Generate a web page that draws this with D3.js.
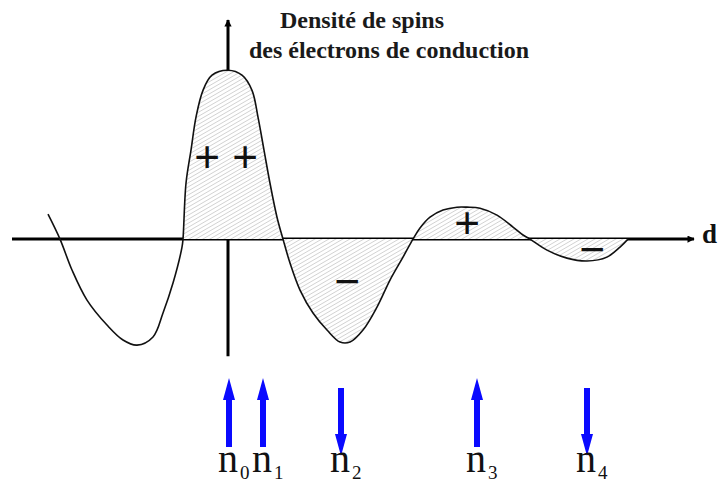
<!DOCTYPE html>
<meta charset="utf-8">
<style>
body { margin: 0; background: #fff; }
svg { display: block; }
</style>
<body>
<div id="vis-container"></div>
<script src="https://cdn.jsdelivr.net/npm/d3@7/dist/d3.min.js"></script>
<script>

// spin density curve (d in arbitrary units, density normalised to the peak)
var curveD = [-3.62, -3.38, -3.14, -2.84, -2.44, -2.12, -1.84, -1.52, -1.32, -1.12, -0.94, -0.92,
              -0.86, -0.76, -0.66, -0.52, -0.34, -0.02, 0.26, 0.46, 0.58, 0.70, 0.82, 0.96, 1.08,
              1.22, 1.42, 1.68, 1.96, 2.22, 2.42, 2.68, 2.96, 3.22, 3.48, 3.68,
              3.82, 4.02, 4.28, 4.56, 4.76, 5.02, 5.36, 5.68, 5.88, 6.02,
              6.36, 6.76, 7.16, 7.56, 7.82, 7.98];
var curveRho = [0.147, 0, -0.182, -0.359, -0.506, -0.594, -0.624, -0.576, -0.435, -0.259, -0.047, 0,
                0.329, 0.524, 0.718, 0.876, 0.965, 0.994, 0.965, 0.876, 0.718, 0.524, 0.329, 0.129, 0,
                -0.141, -0.30, -0.435, -0.535, -0.606, -0.606, -0.535, -0.40, -0.241, -0.106, 0,
                0.065, 0.129, 0.171, 0.188, 0.188, 0.182, 0.141, 0.071, 0.024, 0,
                -0.065, -0.112, -0.129, -0.106, -0.047, 0];
var shadeFrom = -0.92;   // hatched part starts here

// sign labels
var signText = ["+", "+", "+", "\u2212", "\u2212"];
var signD    = [-0.44, 0.32, 4.76, 2.36, 7.26];
var signRho  = [0.48, 0.48, 0.09, -0.25, -0.06];

// magnetic moments n0..n4
var spinName = ["0", "1", "2", "3", "4"];
var spinD    = [0, 0.68, 2.24, 4.96, 7.16];
var spinUp   = [true, true, false, true, false];

var titleLines = ["Densit\u00e9 de spins", "des \u00e9lectrons de conduction"];

var width = 718, height = 484;
var serif = "Liberation Serif";

var x = d3.scaleLinear().domain([-4.34, 9.22]).range([12, 690]);
var y = d3.scaleLinear().domain([-0.7, 1.29]).range([358, 20]);

var svg = d3.select("#vis-container").append("svg")
    .attr("width", width)
    .attr("height", height);

var defs = svg.append("defs");

// hatch pattern
var pat = defs.append("pattern")
    .attr("id", "hatch")
    .attr("patternUnits", "userSpaceOnUse")
    .attr("width", 3.5)
    .attr("height", 3.5)
    .attr("patternTransform", "rotate(-30)");
pat.append("rect").attr("width", 3.5).attr("height", 3.5).attr("fill", "#fff");
pat.append("line")
    .attr("x1", 0).attr("y1", 0).attr("x2", 3.5).attr("y2", 0)
    .attr("stroke", "#b8b8b8").attr("stroke-width", 1.1);

defs.append("marker")
    .attr("id", "axhead")
    .attr("viewBox", "0 0 10 10")
    .attr("refX", 9).attr("refY", 5)
    .attr("markerWidth", 4.5).attr("markerHeight", 2.4)
    .attr("markerUnits", "strokeWidth")
    .attr("orient", "auto")
  .append("path")
    .attr("d", "M0,0L10,5L0,10z")
    .attr("fill", "#000");

// axes
svg.append("line")
    .attr("x1", x(-4.34)).attr("x2", x(9.3))
    .attr("y1", y(0)).attr("y2", y(0))
    .attr("stroke", "#000").attr("stroke-width", 3)
    .attr("marker-end", "url(#axhead)");

svg.append("line")
    .attr("x1", x(-0.02)).attr("x2", x(-0.02))
    .attr("y1", y(-0.69)).attr("y2", y(1.29))
    .attr("stroke", "#000").attr("stroke-width", 3)
    .attr("marker-end", "url(#axhead)");

var pts = curveD.map(function(d, i) { return [d, curveRho[i]]; });
var shaded = pts.filter(function(p) { return p[0] >= shadeFrom; });

svg.append("path")
    .datum(shaded)
    .attr("d", d3.area()
        .x(function(p) { return x(p[0]); })
        .y0(y(0))
        .y1(function(p) { return y(p[1]); })
        .curve(d3.curveCatmullRom.alpha(0.5)))
    .attr("fill", "url(#hatch)");

svg.append("path")
    .datum(pts)
    .attr("d", d3.line()
        .x(function(p) { return x(p[0]); })
        .y(function(p) { return y(p[1]); })
        .curve(d3.curveCatmullRom.alpha(0.5)))
    .attr("fill", "none")
    .attr("stroke", "#111")
    .attr("stroke-width", 1.6);

// + and - signs
svg.selectAll(".sign")
    .data(signText)
    .enter().append("text")
    .attr("class", "sign")
    .attr("x", function(d, i) { return x(signD[i]); })
    .attr("y", function(d, i) { return y(signRho[i]); })
    .attr("text-anchor", "middle")
    .attr("dominant-baseline", "central")
    .style("font-family", serif)
    .style("font-size", "46px")
    .style("font-weight", "bold")
    .attr("fill", "#111")
    .text(function(d) { return d; });

// title
svg.selectAll(".title")
    .data(titleLines)
    .enter().append("text")
    .attr("class", "title")
    .attr("x", function(d, i) { return i ? 389 : 362; })
    .attr("y", function(d, i) { return i ? 58 : 28; })
    .attr("text-anchor", "middle")
    .style("font-family", serif)
    .style("font-size", "24px")
    .style("font-weight", "bold")
    .attr("fill", "#1a1a1a")
    .text(function(d) { return d; });

svg.append("text")
    .attr("x", 702).attr("y", 243)
    .style("font-family", serif)
    .style("font-size", "27px")
    .style("font-weight", "bold")
    .attr("fill", "#111")
    .text("d");

// spin arrows
var blue = "#0a0aff";
var arrows = svg.selectAll(".spin")
    .data(spinName)
    .enter().append("g")
    .attr("class", "spin")
    .attr("transform", function(d, i) { return "translate(" + x(spinD[i]) + ",0)"; });

arrows.append("rect")
    .attr("x", -3).attr("width", 6)
    .attr("y", function(d, i) { return spinUp[i] ? 398 : 388; })
    .attr("height", function(d, i) { return spinUp[i] ? 49 : 48; })
    .attr("fill", blue);

arrows.append("path")
    .attr("d", function(d, i) {
        return spinUp[i] ? "M-6,400L0,378L6,400z" : "M-6,434L0,456L6,434z";
    })
    .attr("fill", blue);

var lab = arrows.append("text")
    .attr("x", -11)
    .attr("y", 472)
    .style("font-family", serif)
    .attr("fill", "#111");
lab.append("tspan")
    .style("font-size", "40px")
    .text("n");
lab.append("tspan")
    .style("font-size", "19px")
    .attr("dy", 7)
    .attr("dx", 2)
    .text(function(d) { return d; });

</script>
</body>
</html>
